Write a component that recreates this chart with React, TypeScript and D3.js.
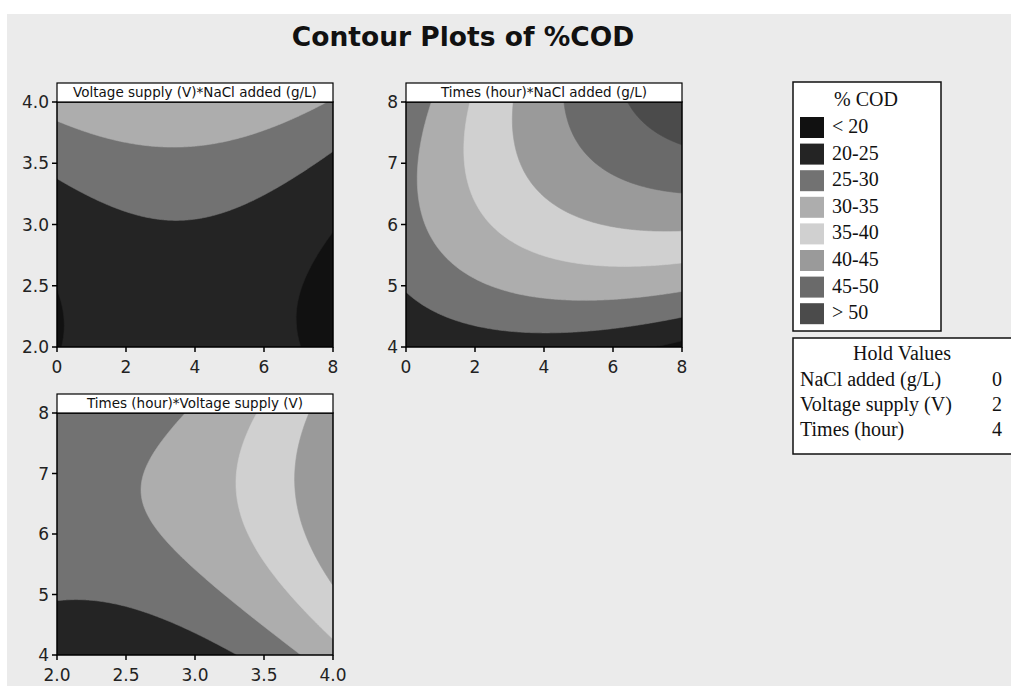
import React, { useMemo } from "react";
import * as d3 from "d3";

// ---------- data ----------
const chartTitle = "Contour Plots of %COD";
const legendTitle = "% COD";
const levels = [20, 25, 30, 35, 40, 45, 50];
const bandLabels = ["< 20", "20-25", "25-30", "30-35", "35-40", "40-45", "45-50", "> 50"];
const bandColors = ["#111111", "#242424", "#727272", "#adadad", "#d0d0d0", "#9a9a9a", "#6a6a6a", "#4b4b4b"];

const panelTitles = [
  "Voltage supply (V)*NaCl added (g/L)",
  "Times (hour)*NaCl added (g/L)",
  "Times (hour)*Voltage supply (V)",
];
const panelXDomains = [[0, 8], [0, 8], [2, 4]];
const panelYDomains = [[2, 4], [4, 8], [4, 8]];
const panelXTicks = [[0, 2, 4, 6, 8], [0, 2, 4, 6, 8], [2.0, 2.5, 3.0, 3.5, 4.0]];
const panelYTicks = [[2.0, 2.5, 3.0, 3.5, 4.0], [4, 5, 6, 7, 8], [4, 5, 6, 7, 8]];
const panelXFormat = ["d", "d", ".1f"];
const panelYFormat = [".1f", "d", "d"];

// fitted response-surface coefficients [c0, cx, cy, cxx, cyy, cxy], in (x - xmin, y - ymin)
const surfaceP1 = [19.8, 1.562, -1.3, -0.217, 3.7, -0.06];
const surfaceP2 = [20.1, 1.5, 6.58, -0.21, -1.25, 0.88];
const surfaceP3 = [20.1, -1.47, 6.58, 4.0, -1.25, 0.4];
const surfaces = [surfaceP1, surfaceP2, surfaceP3];

const holdTitle = "Hold Values";
const holdLabels = ["NaCl added (g/L)", "Voltage supply (V)", "Times (hour)"];
const holdValues = [0, 2, 4];

// ---------- layout ----------
const W = 1011;
const H = 686;
const panelBoxes = [
  { x0: 57, x1: 333, y0: 102, y1: 347 },
  { x0: 406, x1: 682, y0: 102, y1: 347 },
  { x0: 57, x1: 333, y0: 413, y1: 655 },
];
const SANS = "'DejaVu Sans', Verdana, sans-serif";
const SERIF = "'Liberation Serif', 'Times New Roman', serif";

function Panel({ idx }: { idx: number }) {
  const box = panelBoxes[idx];
  const [xmin, xmax] = panelXDomains[idx];
  const [ymin, ymax] = panelYDomains[idx];
  const coef = surfaces[idx];

  const { paths, xScale, yScale } = useMemo(() => {
    const nx = 240;
    const ny = 240;
    const vals: number[] = new Array(nx * ny);
    for (let j = 0; j < ny; j++) {
      const v = ((j + 0.5) / ny) * (ymax - ymin);
      for (let i = 0; i < nx; i++) {
        const u = ((i + 0.5) / nx) * (xmax - xmin);
        vals[i + j * nx] =
          coef[0] + coef[1] * u + coef[2] * v + coef[3] * u * u + coef[4] * v * v + coef[5] * u * v;
      }
    }
    const cs = d3.contours().size([nx, ny]).thresholds(levels)(vals);
    const gx = d3.scaleLinear().domain([0, nx]).range([box.x0, box.x1]);
    const gy = d3.scaleLinear().domain([0, ny]).range([box.y1, box.y0]);
    const proj = d3.geoTransform({
      point(x: number, y: number) {
        (this as any).stream.point(gx(x), gy(y));
      },
    });
    const gp = d3.geoPath(proj);
    const paths = cs.map((c) => gp(c as any) || "");
    const xScale = d3.scaleLinear().domain([xmin, xmax]).range([box.x0, box.x1]);
    const yScale = d3.scaleLinear().domain([ymin, ymax]).range([box.y1, box.y0]);
    return { paths, xScale, yScale };
  }, [idx]);

  const fx = d3.format(panelXFormat[idx]);
  const fy = d3.format(panelYFormat[idx]);
  const clipId = `clip-${idx}`;

  return (
    <g>
      <defs>
        <clipPath id={clipId}>
          <rect x={box.x0} y={box.y0} width={box.x1 - box.x0} height={box.y1 - box.y0} />
        </clipPath>
      </defs>
      <g clipPath={`url(#${clipId})`}>
        <rect x={box.x0} y={box.y0} width={box.x1 - box.x0} height={box.y1 - box.y0} fill={bandColors[0]} />
        {paths.map((d, k) => (
          <path key={k} d={d} fill={bandColors[k + 1]} stroke={bandColors[k + 1]} strokeWidth={0.6} />
        ))}
      </g>
      <rect
        x={box.x0}
        y={box.y0}
        width={box.x1 - box.x0}
        height={box.y1 - box.y0}
        fill="none"
        stroke="#000"
        strokeWidth={1.5}
      />
      {/* strip title */}
      <rect x={box.x0} y={box.y0 - 19} width={box.x1 - box.x0} height={19} fill="#fff" stroke="#000" strokeWidth={1.2} />
      <text
        x={(box.x0 + box.x1) / 2}
        y={box.y0 - 5}
        textAnchor="middle"
        fontFamily={SANS}
        fontSize={13.5}
        fill="#111"
      >
        {panelTitles[idx]}
      </text>
      {/* x axis ticks */}
      {panelXTicks[idx].map((t) => (
        <g key={`x${t}`}>
          <line x1={xScale(t)} x2={xScale(t)} y1={box.y1} y2={box.y1 + 5} stroke="#000" strokeWidth={1.5} />
          <text x={xScale(t)} y={box.y1 + 26} textAnchor="middle" fontFamily={SANS} fontSize={17} fill="#222">
            {fx(t)}
          </text>
        </g>
      ))}
      {/* y axis ticks */}
      {panelYTicks[idx].map((t) => (
        <g key={`y${t}`}>
          <line x1={box.x0 - 5} x2={box.x0} y1={yScale(t)} y2={yScale(t)} stroke="#000" strokeWidth={1.5} />
          <text
            x={box.x0 - 8}
            y={yScale(t) + 6}
            textAnchor="end"
            fontFamily={SANS}
            fontSize={17}
            fill="#222"
          >
            {fy(t)}
          </text>
        </g>
      ))}
    </g>
  );
}

export default function App() {
  const legendX = 793;
  const legendY = 82;
  const swTop = 117;
  const swStep = 26.6;
  const holdY = 338;
  return (
    <svg
      width={W}
      height={H}
      viewBox={`0 0 ${W} ${H}`}
      style={{ position: "absolute", left: 0, top: 0, display: "block" }}
    >
      <rect x={0} y={0} width={W} height={H} fill="#ffffff" />
      <rect x={7} y={14} width={W - 7} height={H - 14} fill="#ebebeb" />
      <text
        x={463}
        y={46}
        textAnchor="middle"
        fontFamily={SANS}
        fontWeight="bold"
        fontSize={26.5}
        fill="#111"
      >
        {chartTitle}
      </text>
      {[0, 1, 2].map((i) => (
        <Panel key={i} idx={i} />
      ))}

      {/* legend */}
      <rect x={legendX} y={legendY} width={148} height={249} fill="#fff" stroke="#111" strokeWidth={1.5} />
      <text x={866} y={106} textAnchor="middle" fontFamily={SERIF} fontSize={20} fill="#111">
        {legendTitle}
      </text>
      {bandLabels.map((lab, i) => (
        <g key={lab}>
          <rect x={800} y={swTop + i * swStep} width={24} height={21} fill={bandColors[i]} />
          <text x={832} y={swTop + i * swStep + 16} fontFamily={SERIF} fontSize={20} fill="#111">
            {lab}
          </text>
        </g>
      ))}

      {/* hold values */}
      <rect x={legendX} y={holdY} width={240} height={116} fill="#fff" stroke="#111" strokeWidth={1.5} />
      <text x={902} y={360} textAnchor="middle" fontFamily={SERIF} fontSize={20} fill="#111">
        {holdTitle}
      </text>
      {holdLabels.map((lab, i) => (
        <g key={lab}>
          <text x={800} y={385.5 + i * 25} fontFamily={SERIF} fontSize={20} fill="#111">
            {lab}
          </text>
          <text x={997} y={385.5 + i * 25} textAnchor="middle" fontFamily={SERIF} fontSize={20} fill="#111">
            {holdValues[i]}
          </text>
        </g>
      ))}
    </svg>
  );
}
